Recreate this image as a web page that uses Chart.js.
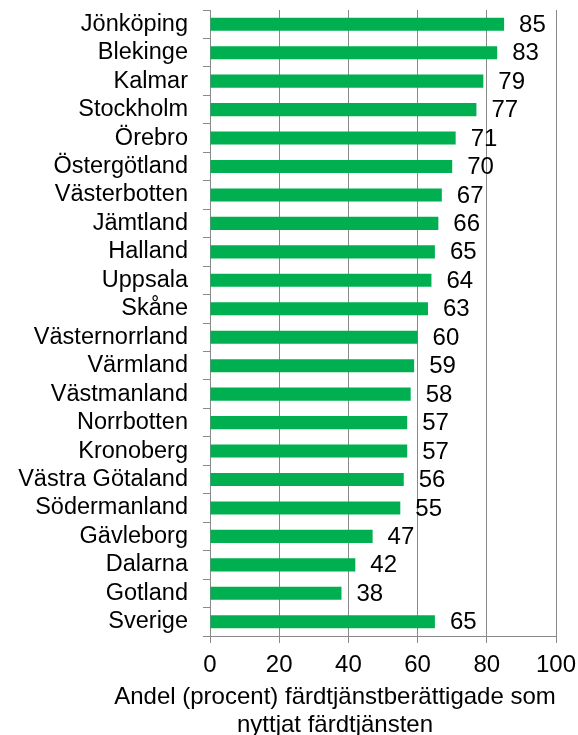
<!DOCTYPE html>
<html>
<head>
<meta charset="utf-8">
<script src="https://cdn.jsdelivr.net/npm/chart.js@4"></script>
<style>
  html, body { margin: 0; padding: 0; background: #fff; }
  #wrap { width: 578px; height: 735px; }
</style>
</head>
<body>
<div id="wrap"><canvas id="lanChart"></canvas></div>
<script>
const lan = ['Jönköping', 'Blekinge', 'Kalmar', 'Stockholm', 'Örebro', 'Östergötland',
    'Västerbotten', 'Jämtland', 'Halland', 'Uppsala', 'Skåne', 'Västernorrland',
    'Värmland', 'Västmanland', 'Norrbotten', 'Kronoberg', 'Västra Götaland',
    'Södermanland', 'Gävleborg', 'Dalarna', 'Gotland', 'Sverige'];
const andel = [85, 83, 79, 77, 71, 70, 67, 66, 65, 64, 63, 60, 59, 58, 57, 57, 56, 55, 47, 42, 38, 65];
const axisTitle = ['Andel (procent) färdtjänstberättigade som', 'nyttjat färdtjänsten'];

const fontFamily = '"Liberation Sans", Arial, sans-serif';
const gridColor = '#898989';
const green = '#00b050';

// labels to the right of each bar + axis title (drawn by hand so it can sit left of center)
const valueLabels = {
    id: 'valueLabels',
    afterDatasetsDraw(chart) {
        const ctx = chart.ctx;
        const meta = chart.getDatasetMeta(0);
        ctx.save();
        ctx.font = '24px ' + fontFamily;
        ctx.fillStyle = '#000';
        ctx.textAlign = 'left';
        ctx.textBaseline = 'middle';
        meta.data.forEach((bar, i) => {
            ctx.fillText(String(andel[i]), bar.x + 15, bar.y + 1);
        });
        ctx.textAlign = 'center';
        ctx.fillText(axisTitle[0], 335, 697);
        ctx.fillText(axisTitle[1], 335, 725);
        ctx.restore();
    }
};

new Chart(document.getElementById('lanChart'), {
    type: 'bar',
    data: {
        labels: lan,
        datasets: [{
            data: andel,
            backgroundColor: green,
            borderWidth: 0,
            barPercentage: 1,
            categoryPercentage: 0.46,
        }]
    },
    options: {
        indexAxis: 'y',
        responsive: true,
        maintainAspectRatio: false,
        animation: false,
        layout: { padding: { top: 10, right: 22, left: 0, bottom: 0 } },
        plugins: {
            legend: { display: false },
            tooltip: { enabled: false },
        },
        scales: {
            x: {
                min: 0,
                max: 100,
                ticks: {
                    stepSize: 20,
                    color: '#000',
                    padding: 8,
                    font: { family: fontFamily, size: 24 },
                },
                grid: {
                    color: gridColor,
                    lineWidth: 1,
                    tickLength: 7,
                },
                border: { color: gridColor },
                afterFit(scale) {
                    scale.height = 99;
                    scale.paddingLeft = 0;
                    scale.paddingRight = 0;
                },
            },
            y: {
                ticks: {
                    autoSkip: false,
                    color: '#000',
                    padding: 15,
                    font: { family: fontFamily, size: 23.5 },
                },
                grid: {
                    drawOnChartArea: false,
                    color: gridColor,
                    tickLength: 7,
                },
                border: { color: gridColor },
                afterFit(scale) {
                    scale.width = 210;
                    scale.paddingTop = 0;
                    scale.paddingBottom = 0;
                },
            }
        }
    },
    plugins: [valueLabels]
});
</script>
</body>
</html>
